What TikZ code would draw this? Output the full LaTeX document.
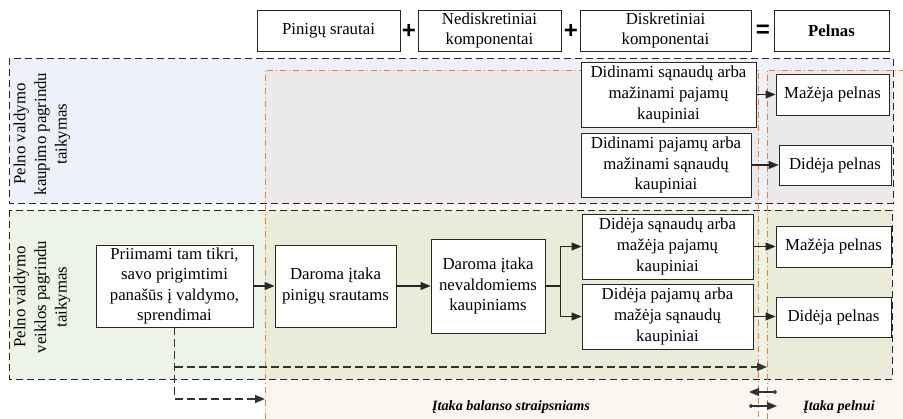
\documentclass[tikz,border=0pt]{standalone}
\usepackage{fontspec}
\setmainfont{Liberation Serif}
\newfontfamily\plusfont{Liberation Sans}
\usetikzlibrary{arrows.meta}

\definecolor{kaupblue}{RGB}{237,241,249}
\definecolor{veikgreen}{RGB}{238,243,231}
\definecolor{itorange}{RGB}{237,125,49}
\definecolor{itfill}{RGB}{219,174,120}

\tikzset{
box/.style={draw=black!85, line width=0.9pt, fill=white, align=center, inner sep=1pt, font=\fontsize{16.8}{20.6}\selectfont},
zenklas/.style={font=\fontsize{24}{24}\selectfont\plusfont\bfseries},
zona/.style={draw=black!85, line width=0.9pt, dash pattern=on 7pt off 4pt},
itaka/.style={draw=itorange, line width=0.8pt, dash pattern=on 6pt off 3pt on 1pt off 3pt},
arr/.style={draw=black!85, line width=1.1pt, -{Triangle[length=10pt,width=8pt]}},
dasharr/.style={draw=black!80, line width=1.3pt, dash pattern=on 8pt off 4pt, -{Triangle[length=10pt,width=8pt]}},
smallarr/.style={draw=black!80, line width=1.1pt, {Circle[length=4pt]}-{Triangle[length=10pt,width=8pt]}}
}

\begin{document}
\begin{tikzpicture}[x=1pt,y=-1pt]
	\useasboundingbox (0,0) rectangle (903,419);
\fill[kaupblue] (9,58) rectangle (893,203);
\fill[veikgreen] (9,210) rectangle (892,379);
\fill[itfill, fill opacity=0.11] (265,70) rectangle (758,419);
\fill[itfill, fill opacity=0.11] (767,70) rectangle (903,419);
\draw[zona] (9,58) rectangle (893,203);
\draw[zona] (9,210) rectangle (892,379);
\draw[itaka] (265,419) -- (265,70) -- (758,70) -- (758,419);
\draw[itaka] (767,419) -- (767,70) -- (903,70);

\node[box, minimum width=143pt, minimum height=41pt] (P) at (328.5,30.5) {Pinigų srautai};
\node[zenklas] (plusA) at (409,31) {+};
\node[box, minimum width=143pt, minimum height=41pt] (N) at (489.5,30.5) {Nediskretiniai\\komponentai};
\node[zenklas] (plusB) at (571,31) {+};
\node[box, minimum width=171pt, minimum height=41pt] (D) at (665.5,30.5) {Diskretiniai\\komponentai};
\node[zenklas] (eq) at (763,31) {=};
\node[box, minimum width=115pt, minimum height=41pt, font=\fontsize{16.8}{20.6}\selectfont\bfseries] (Pel) at (831.5,30.5) {Pelnas};

\node[align=center, rotate=90, font=\fontsize{16.8}{20.6}\selectfont] (KL) at (42,134) {Pelno valdymo\\kaupimo pagrindu\\taikymas};
\node[align=center, rotate=90, font=\fontsize{16.8}{20.6}\selectfont] (VL) at (42,297) {Pelno valdymo\\veiklos pagrindu\\taikymas};

\node[box, minimum width=175pt, minimum height=65pt] (B1) at (668.5,94.5) {Didinami sąnaudų arba\\mažinami pajamų\\kaupiniai};
\node[box, minimum width=170pt, minimum height=64pt] (B2) at (666,165) {Didinami pajamų arba\\mažinami sąnaudų\\kaupiniai};
\node[box, minimum width=113pt, minimum height=41pt] (M1) at (832.5,94.5) {Mažėja pelnas};
\node[box, minimum width=112pt, minimum height=40pt] (D1) at (835,165) {Didėja pelnas};

\node[box, minimum width=157pt, minimum height=82pt] (S) at (174.5,286) {Priimami tam tikri,\\savo prigimtimi\\panašūs į valdymo,\\sprendimai};
\node[box, minimum width=121pt, minimum height=82pt] (F) at (335.5,286) {Daroma įtaka\\pinigų srautams};
\node[box, minimum width=114pt, minimum height=94pt] (K) at (488,286) {Daroma įtaka\\nevaldomiems\\kaupiniams};
\node[box, minimum width=171pt, minimum height=65pt] (B3) at (667.5,246.5) {Didėja sąnaudų arba\\mažėja pajamų\\kaupiniai};
\node[box, minimum width=171pt, minimum height=65pt] (B4) at (667.5,316.5) {Didėja pajamų arba\\mažėja sąnaudų\\kaupiniai};
\node[box, minimum width=115pt, minimum height=41pt] (M2) at (833.5,246.5) {Mažėja pelnas};
\node[box, minimum width=115pt, minimum height=40pt] (D2) at (833.5,317) {Didėja pelnas};

\draw[arr] (B1.east) -- (M1.west |- B1.east);
\draw[arr] (B2.east) -- (D1.west |- B2.east);
\draw[arr] (S) -- (F);
\draw[arr] (F) -- (K);
\draw[arr] (K.east) -- ++(15,0) |- (B3.west);
\draw[arr] (K.east) -- ++(15,0) |- (B4.west);
\draw[arr] (B3.east) -- (M2.west |- B3.east);
\draw[arr] (B4.east) -- (D2.west |- B4.east);

\coordinate (T1) at (265,399);
\coordinate (T2) at (767,367);
\draw[dasharr] (S.south) |- (T1);
\draw[dasharr] (S.south |- T2) -- (T2);

\coordinate (L1) at (777,392);
\coordinate (L2) at (749,392);
\coordinate (R1) at (749,406);
\coordinate (R2) at (777,406);
\draw[smallarr] (L1) -- (L2);
\draw[smallarr] (R1) -- (R2);

\node[font=\fontsize{14.2}{17}\selectfont\bfseries\itshape] (IB) at (511,407) {Įtaka balanso straipsniams};
\node[font=\fontsize{14.2}{17}\selectfont\bfseries\itshape] (IP) at (839,407) {Įtaka pelnui};

\end{tikzpicture}
\end{document}
